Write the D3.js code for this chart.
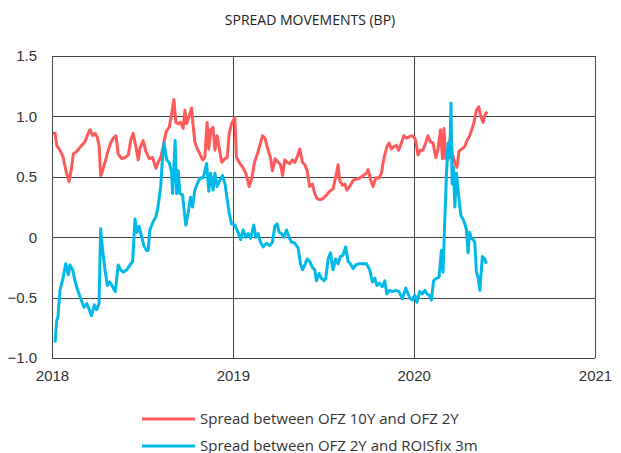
<!DOCTYPE html>
<html>
<head>
<meta charset="utf-8">
<script src="https://cdn.jsdelivr.net/npm/d3@7"></script>
<style>
  body { margin: 0; background: #fff; }
  svg { display: block; font-family: "Open Sans", sans-serif; }
  .axis text { font-size: 15px; fill: #333; }
  .axis path { display: none; }
  .grid line { stroke: #444; stroke-width: 1; }
</style>
</head>
<body>
<div id="chart"></div>
<script>
// decimal year, value
const ofz10y2y = [
  [2018.004, 0.86], [2018.017, 0.86], [2018.026, 0.76], [2018.044, 0.72], [2018.062, 0.66],
  [2018.077, 0.55], [2018.094, 0.46], [2018.109, 0.58], [2018.118, 0.69], [2018.136, 0.71],
  [2018.164, 0.76], [2018.182, 0.79], [2018.195, 0.84], [2018.210, 0.89], [2018.225, 0.84],
  [2018.238, 0.86], [2018.250, 0.83], [2018.261, 0.75], [2018.269, 0.51], [2018.280, 0.55],
  [2018.293, 0.62], [2018.311, 0.72], [2018.324, 0.78], [2018.339, 0.82], [2018.354, 0.84],
  [2018.366, 0.69], [2018.385, 0.65], [2018.403, 0.66], [2018.422, 0.68], [2018.435, 0.80],
  [2018.449, 0.86], [2018.464, 0.75], [2018.477, 0.64], [2018.487, 0.74], [2018.504, 0.80],
  [2018.519, 0.71], [2018.538, 0.65], [2018.556, 0.66], [2018.575, 0.57], [2018.587, 0.62],
  [2018.601, 0.66], [2018.615, 0.75], [2018.630, 0.87], [2018.648, 0.91], [2018.661, 1.01],
  [2018.674, 1.14], [2018.685, 0.95], [2018.698, 0.94], [2018.711, 0.95], [2018.725, 0.90],
  [2018.735, 1.05], [2018.744, 0.94], [2018.759, 1.00], [2018.772, 1.07], [2018.780, 0.93],
  [2018.790, 0.79], [2018.803, 0.73], [2018.818, 0.69], [2018.833, 0.64], [2018.845, 0.66],
  [2018.858, 0.95], [2018.867, 0.73], [2018.878, 0.89], [2018.891, 0.91], [2018.901, 0.72],
  [2018.913, 0.84], [2018.928, 0.71], [2018.939, 0.62], [2018.956, 0.65], [2018.969, 0.66],
  [2018.980, 0.86], [2018.993, 0.94], [2019.011, 0.99], [2019.020, 0.66], [2019.035, 0.62],
  [2019.054, 0.58], [2019.072, 0.53], [2019.090, 0.42], [2019.105, 0.49], [2019.120, 0.62],
  [2019.134, 0.68], [2019.149, 0.76], [2019.164, 0.84], [2019.178, 0.82], [2019.193, 0.73],
  [2019.208, 0.66], [2019.219, 0.55], [2019.234, 0.65], [2019.250, 0.62], [2019.264, 0.60],
  [2019.275, 0.51], [2019.287, 0.64], [2019.300, 0.62], [2019.315, 0.61], [2019.330, 0.64],
  [2019.343, 0.62], [2019.355, 0.66], [2019.370, 0.73], [2019.385, 0.62], [2019.398, 0.60],
  [2019.411, 0.55], [2019.425, 0.42], [2019.440, 0.44], [2019.453, 0.36], [2019.466, 0.32],
  [2019.481, 0.31], [2019.499, 0.32], [2019.518, 0.35], [2019.536, 0.38], [2019.554, 0.40],
  [2019.569, 0.50], [2019.582, 0.60], [2019.591, 0.47], [2019.606, 0.43], [2019.619, 0.44],
  [2019.631, 0.39], [2019.646, 0.42], [2019.665, 0.47], [2019.683, 0.48], [2019.702, 0.49],
  [2019.720, 0.51], [2019.739, 0.53], [2019.748, 0.56], [2019.761, 0.48], [2019.775, 0.42],
  [2019.790, 0.49], [2019.808, 0.49], [2019.822, 0.53], [2019.830, 0.61], [2019.840, 0.68],
  [2019.852, 0.75], [2019.864, 0.78], [2019.877, 0.73], [2019.890, 0.75], [2019.904, 0.76],
  [2019.917, 0.72], [2019.932, 0.78], [2019.945, 0.84], [2019.960, 0.82], [2019.974, 0.83],
  [2019.987, 0.84], [2020.001, 0.83], [2020.011, 0.80], [2020.024, 0.68], [2020.037, 0.72],
  [2020.051, 0.72], [2020.066, 0.78], [2020.079, 0.84], [2020.092, 0.79], [2020.107, 0.78],
  [2020.122, 0.66], [2020.134, 0.73], [2020.148, 0.89], [2020.159, 0.65], [2020.167, 0.90],
  [2020.177, 0.65], [2020.189, 0.64], [2020.203, 0.84], [2020.214, 0.69], [2020.227, 0.61],
  [2020.239, 0.58], [2020.250, 0.71], [2020.264, 0.73], [2020.282, 0.75], [2020.294, 0.80],
  [2020.309, 0.84], [2020.322, 0.90], [2020.333, 0.95], [2020.346, 1.05], [2020.359, 1.08],
  [2020.370, 1.00], [2020.383, 0.95], [2020.392, 1.01], [2020.405, 1.04]
];

const ofz2yRoisfix = [
  [2018.017, -0.87], [2018.026, -0.69], [2018.033, -0.66], [2018.044, -0.44], [2018.062, -0.33],
  [2018.076, -0.22], [2018.090, -0.31], [2018.099, -0.23], [2018.114, -0.27], [2018.127, -0.36],
  [2018.142, -0.44], [2018.159, -0.51], [2018.177, -0.58], [2018.192, -0.55], [2018.206, -0.60],
  [2018.219, -0.65], [2018.234, -0.56], [2018.247, -0.60], [2018.260, -0.55], [2018.269, 0.07],
  [2018.280, -0.11], [2018.293, -0.27], [2018.306, -0.40], [2018.320, -0.37], [2018.335, -0.41],
  [2018.350, -0.45], [2018.366, -0.23], [2018.380, -0.27], [2018.394, -0.29], [2018.413, -0.27],
  [2018.431, -0.23], [2018.446, -0.20], [2018.459, 0.15], [2018.471, 0.04], [2018.482, 0.09],
  [2018.496, 0.00], [2018.508, -0.07], [2018.523, -0.11], [2018.532, -0.11], [2018.541, 0.06],
  [2018.560, 0.13], [2018.575, 0.17], [2018.587, 0.26], [2018.601, 0.42], [2018.609, 0.61],
  [2018.620, 0.78], [2018.634, 0.64], [2018.648, 0.62], [2018.661, 0.54], [2018.667, 0.36],
  [2018.674, 0.58], [2018.681, 0.80], [2018.689, 0.36], [2018.698, 0.55], [2018.707, 0.36],
  [2018.722, 0.35], [2018.731, 0.22], [2018.740, 0.10], [2018.753, 0.20], [2018.766, 0.33],
  [2018.777, 0.25], [2018.790, 0.39], [2018.803, 0.44], [2018.818, 0.49], [2018.836, 0.49],
  [2018.855, 0.61], [2018.867, 0.38], [2018.877, 0.53], [2018.891, 0.39], [2018.901, 0.53],
  [2018.913, 0.42], [2018.928, 0.47], [2018.943, 0.51], [2018.957, 0.44], [2018.969, 0.31],
  [2018.980, 0.20], [2018.993, 0.11], [2019.011, 0.10], [2019.029, 0.04], [2019.043, -0.02],
  [2019.057, 0.06], [2019.072, 0.00], [2019.085, 0.03], [2019.098, -0.01], [2019.116, 0.10],
  [2019.127, 0.00], [2019.140, 0.03], [2019.153, -0.04], [2019.167, -0.08], [2019.186, -0.05],
  [2019.204, -0.07], [2019.219, -0.04], [2019.232, 0.09], [2019.245, 0.11], [2019.256, 0.04],
  [2019.269, 0.03], [2019.282, 0.00], [2019.297, 0.06], [2019.311, 0.00], [2019.324, -0.04],
  [2019.343, -0.05], [2019.361, -0.09], [2019.374, -0.22], [2019.385, -0.27], [2019.398, -0.23],
  [2019.411, -0.18], [2019.425, -0.20], [2019.440, -0.25], [2019.453, -0.27], [2019.462, -0.36],
  [2019.477, -0.30], [2019.490, -0.34], [2019.504, -0.36], [2019.514, -0.34], [2019.527, -0.18],
  [2019.540, -0.13], [2019.554, -0.27], [2019.569, -0.18], [2019.582, -0.22], [2019.595, -0.16],
  [2019.609, -0.15], [2019.624, -0.08], [2019.637, -0.20], [2019.650, -0.22], [2019.665, -0.26],
  [2019.680, -0.23], [2019.698, -0.22], [2019.717, -0.22], [2019.739, -0.22], [2019.757, -0.27],
  [2019.772, -0.37], [2019.785, -0.34], [2019.797, -0.40], [2019.812, -0.38], [2019.827, -0.41],
  [2019.840, -0.36], [2019.852, -0.47], [2019.867, -0.44], [2019.882, -0.45], [2019.901, -0.44],
  [2019.919, -0.45], [2019.938, -0.51], [2019.956, -0.42], [2019.969, -0.47], [2019.982, -0.51],
  [2019.993, -0.52], [2020.006, -0.48], [2020.018, -0.54], [2020.033, -0.45], [2020.048, -0.47],
  [2020.061, -0.44], [2020.074, -0.47], [2020.085, -0.48], [2020.098, -0.52], [2020.110, -0.36],
  [2020.125, -0.34], [2020.140, -0.33], [2020.153, -0.11], [2020.162, -0.29], [2020.171, 0.11],
  [2020.181, 0.53], [2020.190, 0.78], [2020.199, 0.66], [2020.206, 1.11], [2020.212, 0.44],
  [2020.219, 0.58], [2020.227, 0.25], [2020.236, 0.53], [2020.249, 0.33], [2020.260, 0.18],
  [2020.272, 0.15], [2020.282, 0.11], [2020.291, 0.06], [2020.300, -0.13], [2020.309, 0.04],
  [2020.318, -0.01], [2020.328, -0.02], [2020.337, -0.04], [2020.346, -0.29], [2020.355, -0.33],
  [2020.365, -0.44], [2020.374, -0.25], [2020.379, -0.16], [2020.392, -0.18], [2020.401, -0.22]
];

const yTicks = [-1.0, -0.5, 0, 0.5, 1.0, 1.5];
const xYears = [2018, 2019, 2020, 2021];
const seriesNames = ["Spread between OFZ 10Y and OFZ 2Y", "Spread between OFZ 2Y and ROISfix 3m"];
const seriesColors = ["#ff5a5a", "#00b9e8"];
const title = "SPREAD MOVEMENTS (BP)";

const width = 621;
const height = 453;
const margin = { top: 56, right: 26, bottom: 95, left: 52 };

// decimal year -> Date
const toDate = (t) => {
  const y = Math.floor(t);
  const a = new Date(y, 0, 1);
  const b = new Date(y + 1, 0, 1);
  return new Date(+a + (t - y) * (b - a));
};

const x = d3.scaleTime()
  .domain([new Date(2018, 0, 1), new Date(2021, 0, 1)])
  .range([margin.left, width - margin.right]);
const y = d3.scaleLinear()
  .domain([-1, 1.5])
  .range([height - margin.bottom, margin.top]);

const svg = d3.select("#chart").append("svg")
  .attr("width", width)
  .attr("height", height)
  .attr("viewBox", [0, 0, width, height]);

svg.append("text")
  .attr("x", 310)
  .attr("y", 25)
  .attr("text-anchor", "middle")
  .attr("font-size", 14)
  .attr("fill", "#222")
  .text(title);

// grid
const grid = svg.append("g").attr("class", "grid");
grid.selectAll(".hline")
  .data(yTicks)
  .join("line")
  .attr("class", "hline")
  .attr("x1", margin.left)
  .attr("x2", width - margin.right)
  .attr("y1", (d) => Math.round(y(d)) + 0.5)
  .attr("y2", (d) => Math.round(y(d)) + 0.5);
grid.selectAll(".vline")
  .data(xYears)
  .join("line")
  .attr("class", "vline")
  .attr("y1", margin.top)
  .attr("y2", height - margin.bottom)
  .attr("x1", (d) => Math.round(x(new Date(d, 0, 1))) + 0.5)
  .attr("x2", (d) => Math.round(x(new Date(d, 0, 1))) + 0.5);

// axes
svg.append("g")
  .attr("class", "axis axis--y")
  .attr("transform", `translate(${margin.left},0)`)
  .call(d3.axisLeft(y)
    .tickValues(yTicks)
    .tickSize(0)
    .tickPadding(15)
    .tickFormat((d) => (d === 0 ? "0" : d3.format(".1f")(d))));

svg.append("g")
  .attr("class", "axis axis--x")
  .attr("transform", `translate(0,${height - margin.bottom})`)
  .call(d3.axisBottom(x)
    .tickValues(xYears.map((d) => new Date(d, 0, 1)))
    .tickSize(0)
    .tickPadding(12)
    .tickFormat(d3.timeFormat("%Y")));

// lines
const line = d3.line()
  .x((d) => x(toDate(d[0])))
  .y((d) => y(d[1]));

const series = [ofz10y2y, ofz2yRoisfix];
svg.append("g")
  .selectAll("path")
  .data(series)
  .join("path")
  .attr("fill", "none")
  .attr("stroke", (d, i) => seriesColors[i])
  .attr("stroke-width", 3)
  .attr("stroke-linejoin", "round")
  .attr("d", line);

// legend
const legend = svg.append("g")
  .selectAll("g")
  .data(seriesNames)
  .join("g")
  .attr("transform", (d, i) => `translate(142,${419 + i * 27})`);
legend.append("line")
  .attr("x1", 0)
  .attr("x2", 53)
  .attr("stroke", (d, i) => seriesColors[i])
  .attr("stroke-width", 3);
legend.append("text")
  .attr("x", 58)
  .attr("dy", "0.35em")
  .attr("font-size", 15)
  .attr("fill", "#333")
  .text((d) => d);
</script>
</body>
</html>
